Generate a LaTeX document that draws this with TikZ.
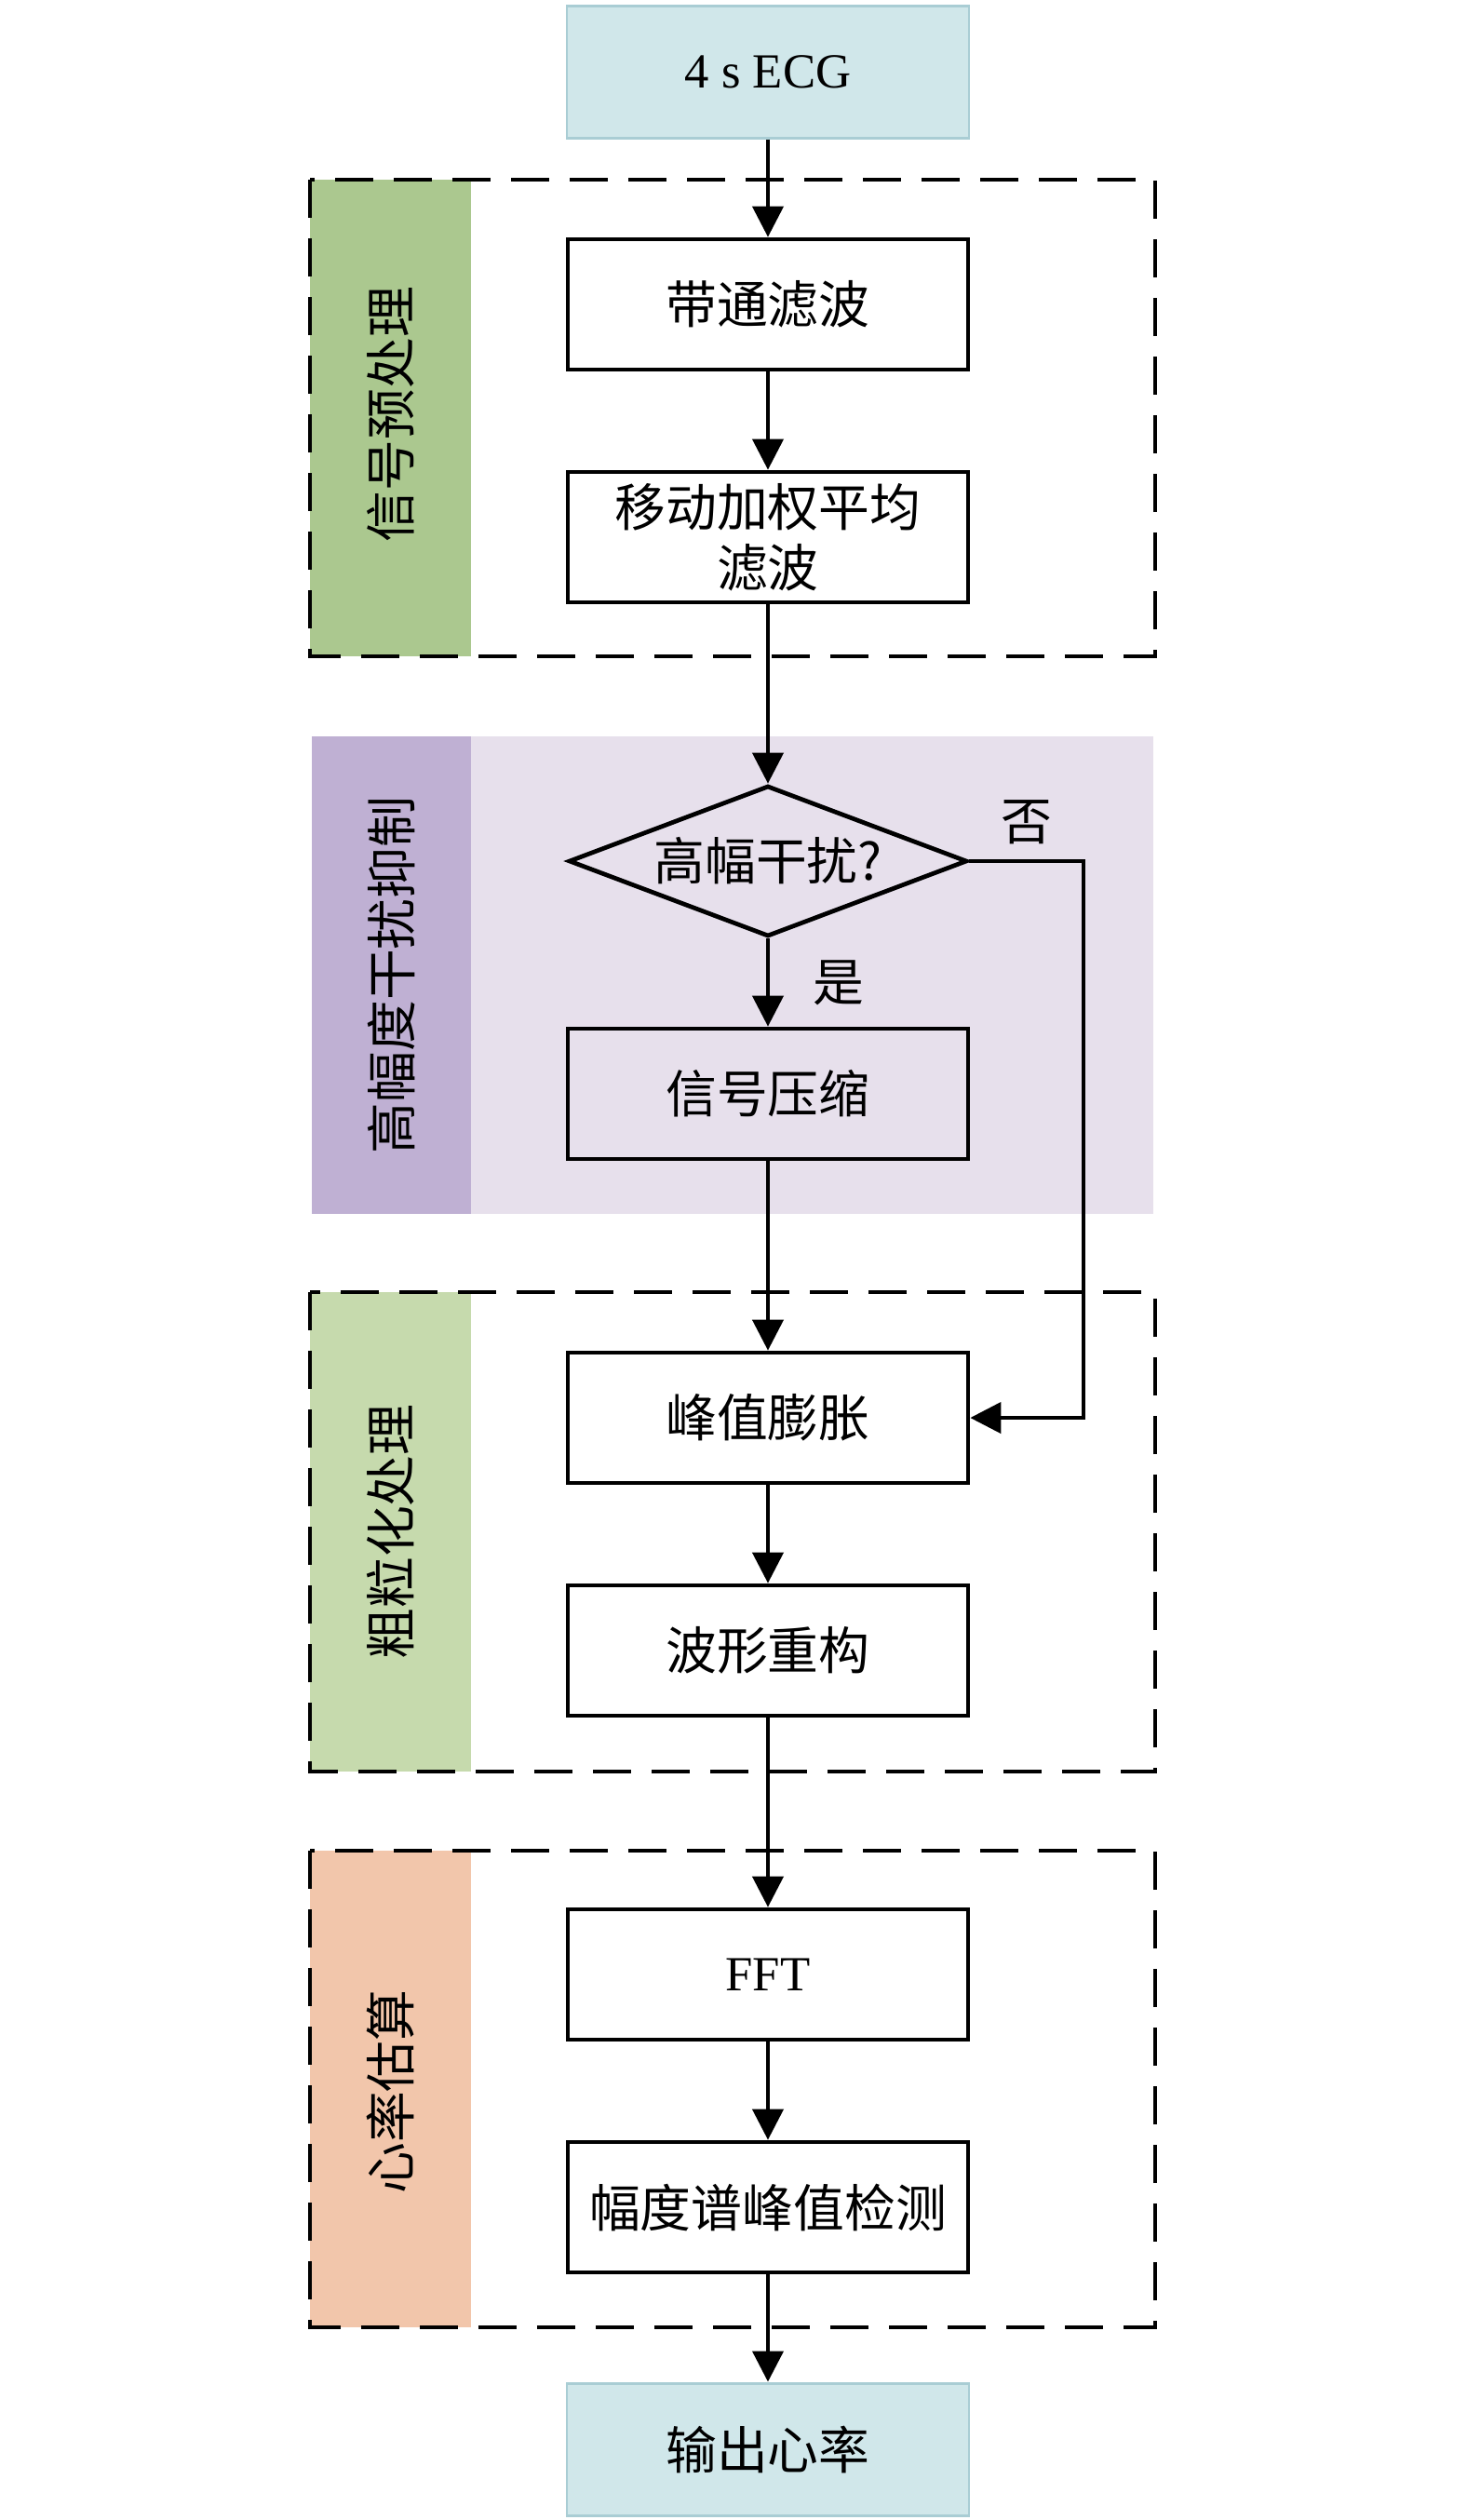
\documentclass[tikz,border=0pt]{standalone}
\usepackage{fontspec}
\setmainfont{Liberation Serif}
\newfontfamily\cjk{Noto Sans CJK SC}
\usetikzlibrary{positioning,shapes,arrows.meta}

\definecolor{iofill}{HTML}{D0E7EA}
\definecolor{ioline}{HTML}{A9CDD4}
\definecolor{preband}{HTML}{ABC88F}
\definecolor{hiband}{HTML}{BFB0D3}
\definecolor{hiback}{HTML}{E7E0EC}
\definecolor{coarseband}{HTML}{C6DAAD}
\definecolor{hrband}{HTML}{F2C6AB}

\begin{document}
\begin{tikzpicture}[node distance=2.5cm, font=\cjk\fontsize{15.6}{18.5}\selectfont] % one step between boxes
            \tikzstyle{io} = [rectangle, minimum width=4.32cm, minimum height=1.42cm, text centered, draw=ioline, line width=0.85pt, fill=iofill]
            \tikzstyle{process} = [rectangle, minimum width=4.3cm, minimum height=1.4cm, text centered, align=center, draw=black, line width=1.35pt]
            \tikzstyle{decision} = [diamond, aspect=2.64, minimum width=4.28cm, minimum height=1.62cm, inner sep=1pt, text centered, draw=black, line width=1.35pt]
            \tikzstyle{stage} = [draw=black, line width=1.35pt, dash pattern=on 0.41cm off 0.22cm]
            \tikzstyle{stagelabel} = [rotate=90, text centered]
            \tikzstyle{arrow} = [line width=1.2pt, -{Triangle[length=0.33cm, width=0.33cm]}]

            \useasboundingbox (-8.25,0.77) rectangle (7.50,-26.30);

            % Stage backgrounds
            \fill [hiback] (-4.90,-7.14) rectangle (4.14,-12.27);
            \fill [preband] (-4.92,-1.16) rectangle (-3.19,-6.28);
            \fill [hiband] (-4.90,-7.14) rectangle (-3.19,-12.27);
            \fill [coarseband] (-4.92,-13.11) rectangle (-3.19,-18.26);
            \fill [hrband] (-4.92,-19.11) rectangle (-3.19,-24.23);
            \draw [stage] (-4.92,-1.16) rectangle (4.16,-6.28);
            \draw [stage] (-4.92,-13.11) rectangle (4.16,-18.26);
            \draw [stage] (-4.92,-19.11) rectangle (4.16,-24.23);

            % Stage labels
            \node (prelab) [stagelabel] at (-4.055,-3.68) {信号预处理};
            \node (hilab) [stagelabel] at (-4.045,-9.705) {高幅度干扰抑制};
            \node (coarselab) [stagelabel] at (-4.055,-15.685) {粗粒化处理};
            \node (hrlab) [stagelabel] at (-4.055,-21.70) {心率估算};

            % Nodes
            \node (ecg) [io] at (0,0) {\rmfamily\fontsize{15}{18}\selectfont 4 s ECG};
            \node (bp) [process, below of=ecg] {带通滤波};
            \node (mwa) [process, below of=bp] {移动加权平均\\滤波};

            % Interference check
            \node (hd) [decision, below of=mwa, yshift=-0.98cm] {高幅干扰?};
            \node (comp) [process, below of=hd] {信号压缩};

            % Coarse graining
            \node (peak) [process, below of=comp, yshift=-0.98cm] {峰值膨胀};
            \node (recon) [process, below of=peak] {波形重构};

            % Heart rate
            \node (fft) [process, below of=recon, yshift=-0.98cm] {\rmfamily\fontsize{15}{18}\selectfont FFT};
            \node (spec) [process, below of=fft] {幅度谱峰值检测};
            \node (out) [io, below of=spec, yshift=-0.1cm] {输出心率};

            \coordinate (turn) at ([xshift=1.23cm]hd.east);

            % Arrows
            \draw [arrow] (ecg) -- (bp);
            \draw [arrow] (bp) -- (mwa);
            \draw [arrow] (mwa) -- (hd);
            \draw [arrow] (hd) -- node (yes) [right=3.5mm] {是} (comp);
            \draw [arrow] (hd.east) -- node (no) [above=0.4mm] {否} (turn) |- (peak.east);
            \draw [arrow] (comp) -- (peak);
            \draw [arrow] (peak) -- (recon);
            \draw [arrow] (recon) -- (fft);
            \draw [arrow] (fft) -- (spec);
            \draw [arrow] (spec) -- (out);
        \end{tikzpicture}
\end{document}
